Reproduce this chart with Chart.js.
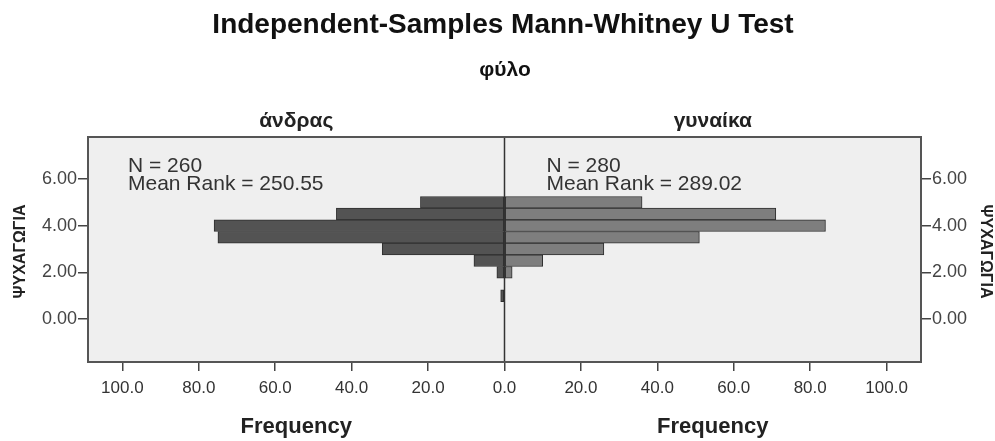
<!DOCTYPE html>
<html>
<head>
<meta charset="utf-8">
<title>Independent-Samples Mann-Whitney U Test</title>
<script src="https://cdn.jsdelivr.net/npm/chart.js@4.4.1/dist/chart.umd.min.js"></script>
<style>
  html, body { margin: 0; padding: 0; background: #fff; }
  #wrap { width: 995px; height: 441px; }
</style>
</head>
<body>
<div id="wrap"><canvas id="mwChart" width="995" height="441"></canvas></div>
<script>
// ΨΥΧΑΓΩΓΙΑ histogram: bin centres and counts for each group
const bins = [5.0, 4.5, 4.0, 3.5, 3.0, 2.5, 2.0, 1.5, 1.0];
const menCounts = [22, 44, 76, 75, 32, 8, 2, 0, 1];
const womenCounts = [36, 71, 84, 51, 26, 10, 2, 0, 0];

const groups = ['άνδρας', 'γυναίκα'];
const groupN = [260, 280];
const meanRanks = ['250.55', '289.02'];

const yTicks = [0, 2, 4, 6];
const xTicks = [-100, -80, -60, -40, -20, 0, 20, 40, 60, 80, 100];

const FONT = '"Liberation Sans", Arial, Helvetica, sans-serif';
Chart.defaults.font.family = FONT;

function drawText(ctx, str, x, y, font, color, align, angle) {
  ctx.save();
  ctx.font = font;
  ctx.fillStyle = color;
  ctx.textAlign = align || 'center';
  ctx.textBaseline = 'alphabetic';
  if (angle) {
    ctx.translate(x, y);
    ctx.rotate(angle);
    ctx.textBaseline = 'middle';
    ctx.fillText(str, 0, 0);
  } else {
    ctx.fillText(str, x, y);
  }
  ctx.restore();
}

// grey plot background, frame, centre line and all the labels
const pyramidDecor = {
  id: 'pyramidDecor',
  beforeDraw(chart) {
    const { ctx, chartArea: a } = chart;
    ctx.save();
    ctx.fillStyle = '#efefef';
    ctx.fillRect(a.left, a.top, a.right - a.left, a.bottom - a.top);
    ctx.restore();
  },
  afterDatasetsDraw(chart) {
    const { ctx, chartArea: a } = chart;
    const x0 = chart.scales.x.getPixelForValue(0);
    ctx.save();
    ctx.strokeStyle = '#333';
    ctx.lineWidth = 1.5;
    ctx.beginPath();
    ctx.moveTo(x0, a.top);
    ctx.lineTo(x0, a.bottom);
    ctx.stroke();
    ctx.strokeStyle = '#555';
    ctx.lineWidth = 2;
    ctx.strokeRect(a.left, a.top, a.right - a.left, a.bottom - a.top);
    ctx.restore();
  },
  afterDraw(chart) {
    const { ctx, chartArea: a } = chart;
    const x0 = chart.scales.x.getPixelForValue(0);
    const centres = [(a.left + x0) / 2, (x0 + a.right) / 2];
    const starts = [a.left + 40, x0 + 42];

    drawText(ctx, 'Independent-Samples Mann-Whitney U Test', 503, 33, 'bold 28px ' + FONT, '#111');
    drawText(ctx, 'φύλο', 505, 76, 'bold 21px ' + FONT, '#111');

    groups.forEach((g, i) => {
      drawText(ctx, g, centres[i], 127, 'bold 21px ' + FONT, '#222');
      drawText(ctx, 'N = ' + groupN[i], starts[i], 172, '21px ' + FONT, '#333', 'left');
      drawText(ctx, 'Mean Rank = ' + meanRanks[i], starts[i], 190, '21px ' + FONT, '#333', 'left');
      drawText(ctx, 'Frequency', centres[i], 433, 'bold 22px ' + FONT, '#222');
    });

    const ym = (a.top + a.bottom) / 2 + 2;
    drawText(ctx, 'ΨΥΧΑΓΩΓΙΑ', 21, ym, 'bold 16px ' + FONT, '#222', 'center', -Math.PI / 2);
    drawText(ctx, 'ΨΥΧΑΓΩΓΙΑ', 985, ym, 'bold 16px ' + FONT, '#222', 'center', Math.PI / 2);
  }
};

function yAxis(pos, width) {
  return {
    type: 'linear',
    position: pos,
    min: -1.84,
    max: 7.8,
    offset: false,
    afterBuildTicks: s => { s.ticks = yTicks.map(v => ({ value: v })); },
    afterFit: s => { s.width = width; },
    ticks: {
      callback: v => v.toFixed(2),
      font: { size: 18 },
      color: '#444',
      padding: 1
    },
    grid: { drawOnChartArea: false, offset: false, tickLength: 10, color: '#444', lineWidth: 1.5 },
    border: { display: false }
  };
}

const ctx = document.getElementById('mwChart').getContext('2d');
const mwChart = new Chart(ctx, {
  type: 'bar',
  data: {
    datasets: [
      {
        label: groups[0],
        data: bins.map((b, i) => ({ x: -menCounts[i], y: b })),
        backgroundColor: '#535353',
        borderColor: '#2e2e2e',
        borderWidth: 1,
        borderSkipped: false
      },
      {
        label: groups[1],
        data: bins.map((b, i) => ({ x: womenCounts[i], y: b })),
        backgroundColor: '#7e7e7e',
        borderColor: '#2e2e2e',
        borderWidth: 1,
        borderSkipped: false
      }
    ]
  },
  options: {
    indexAxis: 'y',
    responsive: false,
    animation: false,
    grouped: false,
    barPercentage: 1,
    categoryPercentage: 1,
    layout: { padding: { top: 137, left: 0, right: 0, bottom: 0 } },
    plugins: {
      legend: { display: false },
      title: { display: false },
      tooltip: { enabled: false }
    },
    scales: {
      x: {
        type: 'linear',
        min: -109,
        max: 109,
        afterBuildTicks: s => { s.ticks = xTicks.map(v => ({ value: v })); },
        afterFit: s => { s.height = 79; },
        ticks: {
          callback: v => Math.abs(v).toFixed(1),
          font: { size: 17 },
          color: '#333',
          padding: 7,
          maxRotation: 0,
          autoSkip: false
        },
        grid: { drawOnChartArea: false, tickLength: 9, color: '#444', lineWidth: 1.5 },
        border: { display: false }
      },
      y: yAxis('left', 88),
      y2: yAxis('right', 74)
    }
  },
  plugins: [pyramidDecor]
});
</script>
</body>
</html>
